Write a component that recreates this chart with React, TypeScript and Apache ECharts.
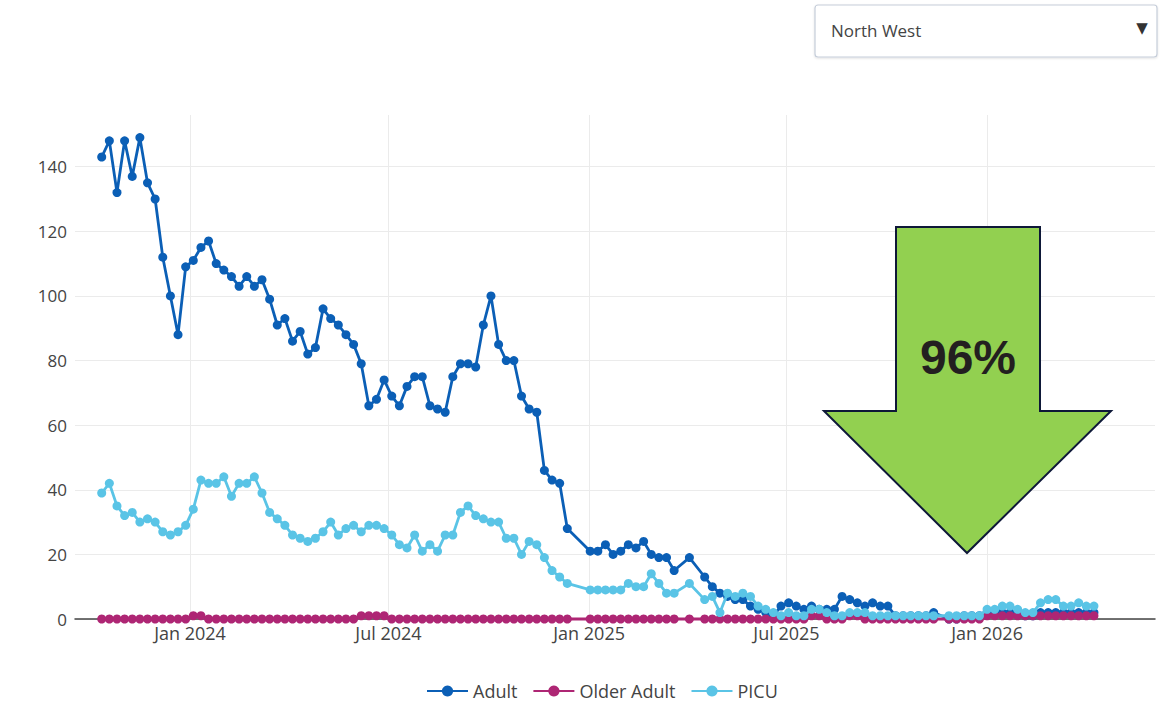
import React, { useEffect, useRef } from "react";
import * as echarts from "echarts";

// Weekly snapshots starting from this date (one slot per week, null = no data that week)
const START = { y: 2023, m: 9, d: 12 };

const adult: (number | null)[] = [
  143, 148, 132, 148, 137, 149, 135, 130, 112, 100, 88, 109, 111, 115, 117, 110, 108, 106, 103, 106,
  103, 105, 99, 91, 93, 86, 89, 82, 84, 96, 93, 91, 88, 85, 79, 66, 68, 74, 69, 66,
  72, 75, 75, 66, 65, 64, 75, 79, 79, 78, 91, 100, 85, 80, 80, 69, 65, 64, 46, 43,
  42, 28, null, null, 21, 21, 23, 20, 21, 23, 22, 24, 20, 19, 19, 15, null, 19, null, 13,
  10, 8, 7, 6, 6, 4, 3, 2, 1, 4, 5, 4, 3, 4, 3, 3, 3, 7, 6, 5,
  4, 5, 4, 4, 1, 1, 1, 1, 1, 2, null, 0, 0, 1, 1, 1, 2, 2, 2, 2,
  2, 1, 1, 2, 2, 2, 2, 2, 2, 2, 2,
];

const olderAdult: (number | null)[] = [
  0, 0, 0, 0, 0, 0, 0, 0, 0, 0, 0, 0, 1, 1, 0, 0, 0, 0, 0, 0,
  0, 0, 0, 0, 0, 0, 0, 0, 0, 0, 0, 0, 0, 0, 1, 1, 1, 1, 0, 0,
  0, 0, 0, 0, 0, 0, 0, 0, 0, 0, 0, 0, 0, 0, 0, 0, 0, 0, 0, 0,
  0, 0, null, null, 0, 0, 0, 0, 0, 0, 0, 0, 0, 0, 0, 0, null, 0, null, 0,
  0, 0, 0, 0, 0, 0, 0, 0, 0, 0, 0, 0, 0, 1, 1, 0, 0, 0, 1, 1,
  0, 0, 0, 0, 0, 0, 0, 0, 0, 0, null, 0, 0, 0, 0, 0, 1, 1, 1, 1,
  1, 1, 1, 1, 1, 1, 1, 1, 1, 1, 1,
];

const picu: (number | null)[] = [
  39, 42, 35, 32, 33, 30, 31, 30, 27, 26, 27, 29, 34, 43, 42, 42, 44, 38, 42, 42,
  44, 39, 33, 31, 29, 26, 25, 24, 25, 27, 30, 26, 28, 29, 27, 29, 29, 28, 26, 23,
  22, 26, 21, 23, 21, 26, 26, 33, 35, 32, 31, 30, 30, 25, 25, 20, 24, 23, 19, 15,
  13, 11, null, null, 9, 9, 9, 9, 9, 11, 10, 10, 14, 11, 8, 8, null, 11, null, 6,
  7, 2, 8, 7, 8, 7, 4, 3, 2, 1, 2, 1, 1, 3, 3, 2, 1, 1, 2, 2,
  2, 1, 1, 1, 1, 1, 1, 1, 1, 1, null, 1, 1, 1, 1, 1, 3, 3, 4, 4,
  3, 2, 2, 5, 6, 6, 4, 4, 5, 4, 4,
];

const seriesNames = ["Adult", "Older Adult", "PICU"];
const seriesColors = ["#0b5fb6", "#ae2674", "#5ac4e6"];

const xTickDates: [number, number][] = [
  [2024, 0], [2024, 6], [2025, 0], [2025, 6], [2026, 0],
];
const yTicks = [0, 20, 40, 60, 80, 100, 120, 140];
const MONTHS = ["Jan", "Feb", "Mar", "Apr", "May", "Jun", "Jul", "Aug", "Sep", "Oct", "Nov", "Dec"];

const region = "North West";
const changeLabel = "96%";

function weekDate(i: number): number {
  return new Date(START.y, START.m, START.d + 7 * i).getTime();
}

function toPairs(vals: (number | null)[]) {
  return vals.map((v, i) => [weekDate(i), v]);
}

export default function App() {
  const ref = useRef<HTMLDivElement>(null);

  useEffect(() => {
    if (!ref.current) return;
    const chart = echarts.init(ref.current, undefined, { renderer: "svg" });
    const font = "'Open Sans', 'Noto Sans', sans-serif";
    const xTicks = xTickDates.map(([y, m]) => new Date(y, m, 1).getTime());
    const allSeries = [adult, olderAdult, picu];

    chart.setOption({
      animation: false,
      backgroundColor: "#ffffff",
      textStyle: { fontFamily: font },
      grid: { left: 75, right: 5, top: 115, bottom: 83, containLabel: false },
      xAxis: {
        type: "value",
        min: new Date(2023, 8, 17, 12).getTime(),
        max: new Date(2026, 5, 4).getTime(),
        axisLine: { show: true, lineStyle: { color: "#444", width: 1.5 } },
        axisTick: { show: false, customValues: xTicks },
        axisLabel: {
          customValues: xTicks,
          color: "#444",
          fontSize: 18,
          fontFamily: font,
          margin: 5,
          formatter: (v: number) => {
            const d = new Date(v);
            return `${MONTHS[d.getMonth()]} ${d.getFullYear()}`;
          },
        },
        splitLine: { show: true, lineStyle: { color: "#ebebeb", width: 1 } },
      },
      yAxis: {
        type: "value",
        min: 0,
        max: 156,
        axisLine: { show: false },
        axisTick: { show: false, customValues: yTicks },
        axisLabel: {
          customValues: yTicks,
          color: "#444",
          fontSize: 17,
          fontFamily: font,
          margin: 8,
        },
        splitLine: { show: true, lineStyle: { color: "#ebebeb", width: 1 } },
      },
      legend: {
        data: seriesNames,
        top: 677,
        left: 421,
        itemWidth: 41,
        itemHeight: 14,
        itemGap: 15,
        textStyle: { color: "#444", fontSize: 18, fontFamily: font },
      },
      series: allSeries.map((vals, k) => ({
        name: seriesNames[k],
        type: "line",
        data: toPairs(vals),
        connectNulls: true,
        showAllSymbol: true,
        symbol: "circle",
        symbolSize: 9,
        clip: false,
        color: seriesColors[k],
        lineStyle: { width: 2.8, color: seriesColors[k] },
        itemStyle: { color: seriesColors[k] },
        emphasis: { disabled: true },
        z: 2 + k,
      })),
      graphic: [
        {
          type: "rect",
          shape: { x: 815, y: 5, width: 342, height: 52, r: 3 },
          style: {
            fill: "#ffffff",
            stroke: "#c5cdd9",
            lineWidth: 1.2,
            shadowColor: "rgba(0,0,0,0.12)",
            shadowBlur: 2,
            shadowOffsetY: 1,
          },
          z: 10,
        },
        {
          type: "text",
          x: 831,
          y: 30,
          style: {
            text: region,
            fill: "#444",
            fontSize: 17,
            fontFamily: font,
            verticalAlign: "middle",
            align: "left",
          },
          z: 11,
        },
        {
          type: "text",
          x: 1142,
          y: 28,
          style: {
            text: "▼",
            fill: "#333",
            fontSize: 15,
            fontFamily: "'DejaVu Sans', sans-serif",
            verticalAlign: "middle",
            align: "center",
          },
          z: 11,
        },
        {
          type: "polygon",
          shape: {
            points: [
              [896, 227], [1040, 227], [1040, 411], [1111, 411],
              [967, 553], [824, 411], [896, 411],
            ],
          },
          style: { fill: "#92d050", stroke: "#0e1838", lineWidth: 2 },
          z: 20,
        },
        {
          type: "text",
          x: 968,
          y: 357,
          style: {
            text: changeLabel,
            fill: "#231f20",
            fontSize: 48,
            fontWeight: "bold",
            fontFamily: "'Liberation Sans', Arial, sans-serif",
            align: "center",
            verticalAlign: "middle",
          },
          z: 21,
        },
      ],
    });

    return () => chart.dispose();
  }, []);

  return (
    <div
      ref={ref}
      style={{ position: "fixed", left: 0, top: 0, width: 1160, height: 702, background: "#fff" }}
    />
  );
}
